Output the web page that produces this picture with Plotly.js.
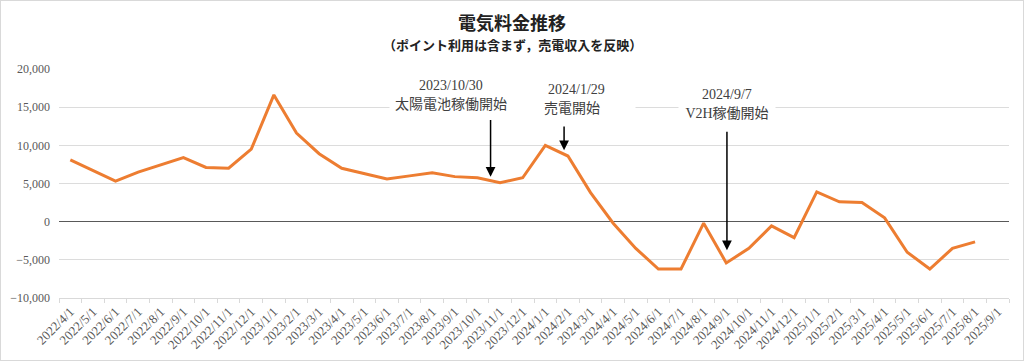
<!DOCTYPE html>
<html>
<head>
<meta charset="utf-8">
<script src="https://cdn.plot.ly/plotly-3.0.1.min.js"></script>
<style>
  html, body { margin: 0; padding: 0; background: #fff; }
  #chart { width: 1022px; height: 359px; border: 1px solid #d9d9d9; }
</style>
</head>
<body>
<div id="chart"></div>
<script>
const months = [
  '2022/4/1','2022/5/1','2022/6/1','2022/7/1','2022/8/1','2022/9/1','2022/10/1','2022/11/1','2022/12/1',
  '2023/1/1','2023/2/1','2023/3/1','2023/4/1','2023/5/1','2023/6/1','2023/7/1','2023/8/1','2023/9/1','2023/10/1','2023/11/1','2023/12/1',
  '2024/1/1','2024/2/1','2024/3/1','2024/4/1','2024/5/1','2024/6/1','2024/7/1','2024/8/1','2024/9/1','2024/10/1','2024/11/1','2024/12/1',
  '2025/1/1','2025/2/1','2025/3/1','2025/4/1','2025/5/1','2025/6/1','2025/7/1','2025/8/1','2025/9/1'
];
const bill = [
  8100, 6700, 5300, 6500, 7400, 8400, 7100, 7000, 9500,
  16600, 11600, 8900, 7000, 6300, 5600, 6000, 6400, 5900, 5750, 5100, 5750,
  10000, 8600, 3800, -200, -3500, -6200, -6200, -200, -5400, -3500, -550, -2100,
  3900, 2600, 2500, 500, -4000, -6200, -3500, -2650, null
];
const yTicks = [-10000, -5000, 0, 5000, 10000, 15000, 20000];

const eventX = [18.58, 21.83, 29.03];
const eventTip = [5870, 9370, -3730];
const eventTail = [13520, 12650, 11990];
const eventDates = ['2023/10/30', '2024/1/29', '2024/9/7'];
const eventDateX = [16.85, 22.37, 29.05];
const eventDateY = [17890, 17330, 16670];
const eventLabels = ['太陽電池稼働開始', '売電開始', 'V2H稼働開始'];
const eventLabelX = [16.85, 22.2, 29.05];
const eventLabelY = [15360, 14840, 14180];
const eventBoxW = [120, 124, 94];

const serif = 'Liberation Serif, "Noto Sans CJK JP", serif';
const annotations = [];
for (let i = 0; i < eventX.length; i++) {
  annotations.push({
    x: eventX[i], y: eventTip[i], ax: eventX[i], ay: eventTail[i],
    xref: 'x', yref: 'y', axref: 'x', ayref: 'y',
    text: '', showarrow: true, arrowhead: 2, arrowsize: 1.3, arrowwidth: 1.5, arrowcolor: '#000'
  });
  annotations.push({
    x: eventLabelX[i], y: eventLabelY[i], xref: 'x', yref: 'y',
    text: eventLabels[i], showarrow: false, bgcolor: '#fff', width: eventBoxW[i],
    font: {family: serif, size: 14, color: '#404040'}
  });
  annotations.push({
    x: eventDateX[i], y: eventDateY[i], xref: 'x', yref: 'y',
    text: eventDates[i], showarrow: false,
    font: {family: serif, size: 14, color: '#404040'}
  });
}
annotations.push({
  x: 0.477, y: 1.106, xref: 'paper', yref: 'paper', xanchor: 'center', yanchor: 'middle',
  text: '（ポイント利用は含まず，売電収入を反映）', showarrow: false,
  font: {family: '"Noto Sans CJK JP", sans-serif', size: 13, color: '#222', weight: 'bold'}
});

const trace = {
  x: months, y: bill, type: 'scatter', mode: 'lines',
  line: {color: '#ED7D31', width: 3},
  connectgaps: false, hoverinfo: 'skip'
};

const layout = {
  width: 1022, height: 359,
  margin: {l: 58, r: 14, t: 68, b: 62},
  paper_bgcolor: '#fff', plot_bgcolor: '#fff',
  showlegend: false,
  title: {
    text: '電気料金推移', x: 0.5, xanchor: 'center', y: 0.937, yanchor: 'middle',
    font: {family: '"Noto Sans CJK JP", sans-serif', size: 18, color: '#222', weight: 'bold'}
  },
  xaxis: {
    type: 'category', categoryorder: 'array', categoryarray: months,
    range: [-0.5, months.length - 0.5],
    tickson: 'boundaries', ticks: 'outside', ticklen: 4, tickcolor: '#d9d9d9',
    showgrid: false, showline: true, linecolor: '#d9d9d9', linewidth: 1,
    tickangle: -45, tickfont: {family: serif, size: 13, color: '#595959'},
    zeroline: false, fixedrange: true
  },
  yaxis: {
    range: [-10000, 20000], tickvals: yTicks, tickformat: ',d',
    showgrid: true, gridcolor: '#dcdcdc', gridwidth: 1,
    zeroline: true, zerolinecolor: '#595959', zerolinewidth: 1.2,
    showline: false, ticks: '', ticklabelstandoff: 8,
    tickfont: {family: serif, size: 12, color: '#595959'},
    fixedrange: true
  },
  annotations: annotations
};

Plotly.newPlot('chart', [trace], layout, {displayModeBar: false, staticPlot: true});
</script>
</body>
</html>
